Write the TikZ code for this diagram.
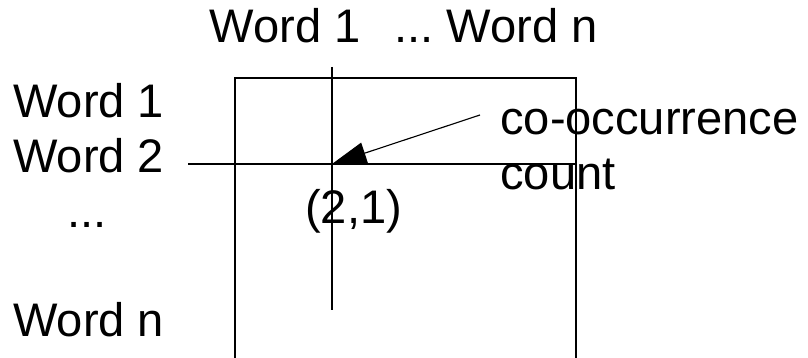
\documentclass[tikz,border=0pt]{standalone}
\usepackage{fontspec}
\setmainfont{Liberation Sans}
\usetikzlibrary{arrows.meta, positioning, calc}
\frenchspacing

\begin{document}
\begin{tikzpicture}[
  word/.style={font=\fontsize{33.5}{40}\selectfont, inner sep=0pt, anchor=base west},
  grid/.style={line width=1pt, black},
  pointer/.style={line width=0.8pt, -{Triangle[length=0.86cm, width=0.55cm]}}
]
  \useasboundingbox (0,0) rectangle (20.2,8.95);

  % matrix outline (runs off the bottom)
  \coordinate (boxbl) at (5.875,0);
  \coordinate (boxtl) at (5.875,7.0);
  \coordinate (boxtr) at (14.4,7.0);
  \coordinate (boxbr) at (14.4,0);
  \draw[grid] (boxbl) -- (boxtl) -- (boxtr) -- (boxbr);

  % column / row through the cell
  \coordinate (coltop) at (8.3,7.275);
  \coordinate (colbot) at (8.3,1.2);
  \coordinate (rowleft) at (4.7,4.85);
  \coordinate (rowright) at (14.4,4.85);
  \coordinate (cell) at (8.3,4.85);
  \draw[grid] (coltop) -- (colbot);
  \draw[grid] (rowleft) -- (rowright);

  % labels
  \node[word, anchor=base] (cols) at (10.09,7.875) {Word 1\hspace{0.72em}... Word n};
  \node[word] (row1) at (0.325,6.0) {Word 1};
  \node[word] (row2) at (0.325,4.625) {Word 2};
  \node[word, anchor=base] (rowdots) at (2.175,3.25) {...};
  \node[word] (rown) at (0.325,0.525) {Word n};
  \node[word, anchor=base] (cellname) at (8.84,3.35) {(2,1)};
  \node[word] (cooc) at (12.5,5.575) {co-occurrence};
  \node[word] (count) at (12.5,4.2) {count};

  \coordinate (arrowstart) at (12.0,6.075);
  \draw[pointer] (arrowstart) -- (cell);
\end{tikzpicture}
\end{document}
